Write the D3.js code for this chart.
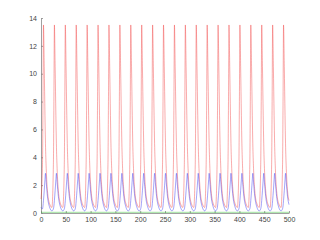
<!DOCTYPE html>
<html>
<head>
<meta charset="utf-8">
<script src="https://cdn.jsdelivr.net/npm/d3@7"></script>
<style>
  body { margin: 0; background: #fff; }
  .tick text { font-family: "Liberation Sans", Arial, sans-serif; font-size: 7px; fill: #444; }
</style>
</head>
<body>
<script>
// Time samples (~10 per cycle)
var time = [
  0, 3, 4, 5, 6.5, 8, 9, 10.5, 13, 17,
  22, 25, 26, 27, 28.5, 30, 31, 32.5, 35, 39,
  44, 47, 48, 49, 50.5, 52, 53, 54.5, 57, 61,
  66, 69, 70, 71, 72.5, 74, 75, 76.5, 79, 83,
  88, 91, 92, 93, 94.5, 96, 97, 98.5, 101, 105,
  110, 113, 114, 115, 116.5, 118, 119, 120.5, 123, 127,
  132, 135, 136, 137, 138.5, 140, 141, 142.5, 145, 149,
  154, 157, 158, 159, 160.5, 162, 163, 164.5, 167, 171,
  176, 179, 180, 181, 182.5, 184, 185, 186.5, 189, 193,
  198, 201, 202, 203, 204.5, 206, 207, 208.5, 211, 215,
  220, 223, 224, 225, 226.5, 228, 229, 230.5, 233, 237,
  242, 245, 246, 247, 248.5, 250, 251, 252.5, 255, 259,
  264, 267, 268, 269, 270.5, 272, 273, 274.5, 277, 281,
  286, 289, 290, 291, 292.5, 294, 295, 296.5, 299, 303,
  308, 311, 312, 313, 314.5, 316, 317, 318.5, 321, 325,
  330, 333, 334, 335, 336.5, 338, 339, 340.5, 343, 347,
  352, 355, 356, 357, 358.5, 360, 361, 362.5, 365, 369,
  374, 377, 378, 379, 380.5, 382, 383, 384.5, 387, 391,
  396, 399, 400, 401, 402.5, 404, 405, 406.5, 409, 413,
  418, 421, 422, 423, 424.5, 426, 427, 428.5, 431, 435,
  440, 443, 444, 445, 446.5, 448, 449, 450.5, 453, 457,
  462, 465, 466, 467, 468.5, 470, 471, 472.5, 475, 479,
  484, 487, 488, 489, 490.5, 492, 493, 494.5, 497, 500
];

// Red series
var red = [
  1.0, 3.5, 8.0, 13.5, 10.5, 7.0, 5.0, 3.2, 1.6, 0.7,
  0.4, 3.5, 8.0, 13.5, 10.5, 7.0, 5.0, 3.2, 1.6, 0.7,
  0.4, 3.5, 8.0, 13.5, 10.5, 7.0, 5.0, 3.2, 1.6, 0.7,
  0.4, 3.5, 8.0, 13.5, 10.5, 7.0, 5.0, 3.2, 1.6, 0.7,
  0.4, 3.5, 8.0, 13.5, 10.5, 7.0, 5.0, 3.2, 1.6, 0.7,
  0.4, 3.5, 8.0, 13.5, 10.5, 7.0, 5.0, 3.2, 1.6, 0.7,
  0.4, 3.5, 8.0, 13.5, 10.5, 7.0, 5.0, 3.2, 1.6, 0.7,
  0.4, 3.5, 8.0, 13.5, 10.5, 7.0, 5.0, 3.2, 1.6, 0.7,
  0.4, 3.5, 8.0, 13.5, 10.5, 7.0, 5.0, 3.2, 1.6, 0.7,
  0.4, 3.5, 8.0, 13.5, 10.5, 7.0, 5.0, 3.2, 1.6, 0.7,
  0.4, 3.5, 8.0, 13.5, 10.5, 7.0, 5.0, 3.2, 1.6, 0.7,
  0.4, 3.5, 8.0, 13.5, 10.5, 7.0, 5.0, 3.2, 1.6, 0.7,
  0.4, 3.5, 8.0, 13.5, 10.5, 7.0, 5.0, 3.2, 1.6, 0.7,
  0.4, 3.5, 8.0, 13.5, 10.5, 7.0, 5.0, 3.2, 1.6, 0.7,
  0.4, 3.5, 8.0, 13.5, 10.5, 7.0, 5.0, 3.2, 1.6, 0.7,
  0.4, 3.5, 8.0, 13.5, 10.5, 7.0, 5.0, 3.2, 1.6, 0.7,
  0.4, 3.5, 8.0, 13.5, 10.5, 7.0, 5.0, 3.2, 1.6, 0.7,
  0.4, 3.5, 8.0, 13.5, 10.5, 7.0, 5.0, 3.2, 1.6, 0.7,
  0.4, 3.5, 8.0, 13.5, 10.5, 7.0, 5.0, 3.2, 1.6, 0.7,
  0.4, 3.5, 8.0, 13.5, 10.5, 7.0, 5.0, 3.2, 1.6, 0.7,
  0.4, 3.5, 8.0, 13.5, 10.5, 7.0, 5.0, 3.2, 1.6, 0.7,
  0.4, 3.5, 8.0, 13.5, 10.5, 7.0, 5.0, 3.2, 1.6, 0.7,
  0.4, 3.5, 8.0, 13.5, 10.5, 7.0, 5.0, 3.2, 1.6, 0.9
];

// Blue series
var blue = [
  0.4, 0.3, 0.5, 0.9, 1.6, 2.4, 2.85, 2.2, 1.2, 0.45,
  0.15, 0.3, 0.5, 0.9, 1.6, 2.4, 2.85, 2.2, 1.2, 0.45,
  0.15, 0.3, 0.5, 0.9, 1.6, 2.4, 2.85, 2.2, 1.2, 0.45,
  0.15, 0.3, 0.5, 0.9, 1.6, 2.4, 2.85, 2.2, 1.2, 0.45,
  0.15, 0.3, 0.5, 0.9, 1.6, 2.4, 2.85, 2.2, 1.2, 0.45,
  0.15, 0.3, 0.5, 0.9, 1.6, 2.4, 2.85, 2.2, 1.2, 0.45,
  0.15, 0.3, 0.5, 0.9, 1.6, 2.4, 2.85, 2.2, 1.2, 0.45,
  0.15, 0.3, 0.5, 0.9, 1.6, 2.4, 2.85, 2.2, 1.2, 0.45,
  0.15, 0.3, 0.5, 0.9, 1.6, 2.4, 2.85, 2.2, 1.2, 0.45,
  0.15, 0.3, 0.5, 0.9, 1.6, 2.4, 2.85, 2.2, 1.2, 0.45,
  0.15, 0.3, 0.5, 0.9, 1.6, 2.4, 2.85, 2.2, 1.2, 0.45,
  0.15, 0.3, 0.5, 0.9, 1.6, 2.4, 2.85, 2.2, 1.2, 0.45,
  0.15, 0.3, 0.5, 0.9, 1.6, 2.4, 2.85, 2.2, 1.2, 0.45,
  0.15, 0.3, 0.5, 0.9, 1.6, 2.4, 2.85, 2.2, 1.2, 0.45,
  0.15, 0.3, 0.5, 0.9, 1.6, 2.4, 2.85, 2.2, 1.2, 0.45,
  0.15, 0.3, 0.5, 0.9, 1.6, 2.4, 2.85, 2.2, 1.2, 0.45,
  0.15, 0.3, 0.5, 0.9, 1.6, 2.4, 2.85, 2.2, 1.2, 0.45,
  0.15, 0.3, 0.5, 0.9, 1.6, 2.4, 2.85, 2.2, 1.2, 0.45,
  0.15, 0.3, 0.5, 0.9, 1.6, 2.4, 2.85, 2.2, 1.2, 0.45,
  0.15, 0.3, 0.5, 0.9, 1.6, 2.4, 2.85, 2.2, 1.2, 0.45,
  0.15, 0.3, 0.5, 0.9, 1.6, 2.4, 2.85, 2.2, 1.2, 0.45,
  0.15, 0.3, 0.5, 0.9, 1.6, 2.4, 2.85, 2.2, 1.2, 0.45,
  0.15, 0.3, 0.5, 0.9, 1.6, 2.4, 2.85, 2.2, 1.2, 0.6
];

// Green series (flat near zero)
var greenTime = [0, 100, 200, 300, 400, 500];
var green = [0.05, 0.05, 0.05, 0.05, 0.05, 0.05];

// Tick values
var xTicks = [0, 50, 100, 150, 200, 250, 300, 350, 400, 450, 500];
var yTicks = [0, 2, 4, 6, 8, 10, 12, 14];

// Size and margins
var margin = {top: 18, right: 31, bottom: 27, left: 41},
    width = 320 - margin.left - margin.right,
    height = 240 - margin.top - margin.bottom;

var svg = d3.select("body").append("svg")
    .attr("width", 320)
    .attr("height", 240)
  .append("g")
    .attr("transform", "translate(" + margin.left + "," + margin.top + ")");

var x = d3.scaleLinear().domain([0, 500]).range([0, width]);
var y = d3.scaleLinear().domain([0, 14]).range([height, 0]);

// Axes, MATLAB style: ticks pointing inward
svg.append("g")
    .attr("transform", "translate(0," + height + ")")
    .call(d3.axisBottom(x).tickValues(xTicks).tickSizeInner(-2).tickSizeOuter(0).tickPadding(4));

svg.append("g")
    .call(d3.axisLeft(y).tickValues(yTicks).tickSizeInner(-2).tickSizeOuter(0).tickPadding(4));

svg.selectAll(".domain").attr("stroke", "#888").attr("stroke-width", 0.8);
svg.selectAll(".tick line").attr("stroke", "#888").attr("stroke-width", 0.8);

// Line generator
function makeLine(xs) {
  return d3.line()
    .x(function(d, i) { return x(xs[i]); })
    .y(function(d) { return y(d); })
    .curve(d3.curveMonotoneX);
}

svg.append("path")
    .attr("d", makeLine(time)(red))
    .attr("fill", "none")
    .attr("stroke", "#f03030")
    .attr("stroke-opacity", 0.5)
    .attr("stroke-width", 0.8);

svg.append("path")
    .attr("d", makeLine(time)(blue))
    .attr("fill", "none")
    .attr("stroke", "#3030f0")
    .attr("stroke-opacity", 0.55)
    .attr("stroke-width", 0.8);

svg.append("path")
    .attr("d", makeLine(greenTime)(green))
    .attr("fill", "none")
    .attr("stroke", "#30c030")
    .attr("stroke-opacity", 0.6)
    .attr("stroke-width", 0.8);
</script>
</body>
</html>
